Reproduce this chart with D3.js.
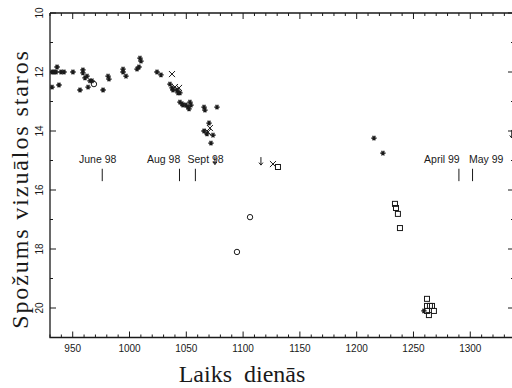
<!DOCTYPE html>
<html><head><meta charset="utf-8">
<script src="https://cdn.jsdelivr.net/npm/d3@7"></script>
<style>body{margin:0;background:#fff}svg{display:block}</style>
</head><body>
<svg id="c" width="512" height="388"></svg>
<script>
// ---- data ----
const starDays = [931.8,933.5,935.3,931.8,936.2,937.9,939.7,942.3,950.2,956.4,959.0,959.0,960.8,962.6,963.5,965.2,967.0,976.7,981.1,981.9,994.3,994.3,996.9,1006.6,1008.3,1009.2,1010.1,1024.2,1027.7,1035.6,1037.4,1038.3,1041.8,1044.4,1042.7,1044.4,1046.2,1047.1,1049.7,1051.5,1053.2,1054.1,1052.4,1065.6,1066.4,1077.0,1070.0,1065.6,1068.2,1073.5,1071.7,1215.2,1223.1,1259.2];
const starMags = [12.0,12.0,12.0,12.51,11.83,12.44,12.0,12.0,12.0,12.61,11.93,12.03,12.2,12.14,12.51,12.3,12.3,12.61,12.14,12.24,11.9,12.0,12.14,11.9,11.83,11.53,11.63,12.0,12.1,12.41,12.54,12.61,12.61,12.71,12.71,13.02,13.08,13.12,13.12,13.19,13.02,13.12,13.25,13.19,13.29,13.19,13.73,14.0,14.1,14.14,14.41,14.24,14.75,20.1];
const crossDays = [1037.4,1040.0,1043.6,1069.1,1070.8,1126.3];
const crossMags = [12.07,12.51,12.54,14.03,13.9,15.12];
const circleDays = [968.7,1094.6,1106.1];
const circleMags = [12.41,18.1,16.92];
const squareDays = [1130.7,1233.7,1234.6,1236.3,1238.1,1261.9,1261.9,1264.5,1266.3,1261.9,1263.6,1268.0];
const squareMags = [15.22,16.47,16.61,16.81,17.29,19.69,19.93,19.93,19.93,20.1,20.24,20.1];
const limitDays = [1075.2,1115.7,1336.5];
const limitMags = [15.0,15.02,14.1];
const monthNames = ["June 98","Aug 98","Sept 98","April 99","May 99"];
const monthDays = [976,1044,1058,1290,1302];
const monthTextDays = [972,1030,1067,1275,1314];
const xTicks = [950,1000,1050,1100,1150,1200,1250,1300];
const yTicks = [10,12,14,16,18,20];

// ---- layout ----
const svg = d3.select("#c");
const L = 50, R = 514, T = 13, B = 337.5;
const x = d3.scaleLinear().domain([930, 1338.5]).range([L, R]);
const y = d3.scaleLinear().domain([10, 21]).range([T, B]);
const ink = "#1a1a1a";

const g = svg.append("g");
// frame
g.append("path").attr("d", `M${L},${T}H${R}M${L},${T}V${B}H${R}M${R},${T}V${B}`)
 .attr("fill","none").attr("stroke",ink).attr("stroke-width",1.3);

// x ticks (bottom up, top down)
const xMinor = d3.range(930, 1339, 10);
xMinor.forEach(v => {
  const major = v % 50 === 0;
  const len = major ? 6 : 3;
  g.append("line").attr("x1",x(v)).attr("x2",x(v)).attr("y1",B).attr("y2",B-len).attr("stroke",ink).attr("stroke-width",1);
  g.append("line").attr("x1",x(v)).attr("x2",x(v)).attr("y1",T).attr("y2",T+len).attr("stroke",ink).attr("stroke-width",1);
});
// y ticks
d3.range(10, 21.01, 1).forEach(v => {
  const major = v % 2 === 0;
  const len = major ? 6 : 3;
  g.append("line").attr("x1",L).attr("x2",L+len).attr("y1",y(v)).attr("y2",y(v)).attr("stroke",ink).attr("stroke-width",1);
  g.append("line").attr("x1",R).attr("x2",R-len).attr("y1",y(v)).attr("y2",y(v)).attr("stroke",ink).attr("stroke-width",1);
});
// x tick labels
g.selectAll(".xl").data(xTicks).enter().append("text")
 .attr("x", d => x(d)).attr("y", B + 14).attr("text-anchor","middle")
 .attr("font-family","Liberation Sans, Arial, sans-serif").attr("font-size",10).attr("fill",ink)
 .text(d => d);
// y tick labels (rotated)
g.selectAll(".yl").data(yTicks).enter().append("text")
 .attr("transform", d => `translate(${L-7},${y(d)}) rotate(-90)`)
 .attr("text-anchor","middle")
 .attr("font-family","Liberation Sans, Arial, sans-serif").attr("font-size",10).attr("fill",ink)
 .text(d => d);

// axis titles
svg.append("text").attr("x", 242).attr("y", 382).attr("text-anchor","middle")
 .attr("font-family","Liberation Serif, Times New Roman, serif").attr("font-size",24).attr("fill",ink)
 .attr("xml:space","preserve").style("white-space","pre").text("Laiks  dienās");
svg.append("text").attr("transform","translate(28,189) rotate(-90)").attr("text-anchor","middle")
 .attr("font-family","Liberation Serif, Times New Roman, serif").attr("font-size",24).attr("fill",ink)
 .attr("letter-spacing",1.9)
 .text("Spožums vizuālos staros");

// month annotations
monthNames.forEach((n, i) => {
  g.append("text").attr("x", x(monthTextDays[i])).attr("y", y(15.08))
   .attr("text-anchor","middle").attr("font-family","Liberation Sans, Arial, sans-serif")
   .attr("font-size",10.5).attr("fill",ink).text(n);
  g.append("line").attr("x1",x(monthDays[i])).attr("x2",x(monthDays[i]))
   .attr("y1",y(15.28)).attr("y2",y(15.7)).attr("stroke",ink).attr("stroke-width",1);
});

// clip for data
svg.append("clipPath").attr("id","pc").append("rect").attr("x",L).attr("y",T).attr("width",R-L).attr("height",B-T);
const p = svg.append("g").attr("clip-path","url(#pc)");

const star = d3.symbol().type(d3.symbolAsterisk).size(20);
const sg = p.selectAll(".s").data(starDays).enter().append("g")
 .attr("transform",(d,i)=>`translate(${x(d)},${y(starMags[i])}) rotate(90)`);
sg.append("path").attr("d", star).attr("fill","none").attr("stroke",ink).attr("stroke-width",1.3);
sg.append("circle").attr("r",1.4).attr("fill",ink);

const cross = d3.symbol().type(d3.symbolTimes).size(26);
p.selectAll(".x").data(crossDays).enter().append("path")
 .attr("transform",(d,i)=>`translate(${x(d)},${y(crossMags[i])})`)
 .attr("d", cross).attr("fill","none").attr("stroke",ink).attr("stroke-width",1);

p.selectAll(".o").data(circleDays).enter().append("circle")
 .attr("cx", d => x(d)).attr("cy",(d,i)=>y(circleMags[i])).attr("r",2.7)
 .attr("fill","none").attr("stroke",ink).attr("stroke-width",1);

p.selectAll(".q").data(squareDays).enter().append("rect")
 .attr("x", d => x(d)-2.5).attr("y",(d,i)=>y(squareMags[i])-2.5).attr("width",5).attr("height",5)
 .attr("fill","none").attr("stroke",ink).attr("stroke-width",1);

limitDays.forEach((d,i)=>{
  const cx = x(d), cy = y(limitMags[i]);
  p.append("path").attr("d",`M${cx},${cy-4}V${cy+4}M${cx-2},${cy+1.5}L${cx},${cy+4}L${cx+2},${cy+1.5}`)
   .attr("fill","none").attr("stroke",ink).attr("stroke-width",1);
});
</script>
</body></html>
